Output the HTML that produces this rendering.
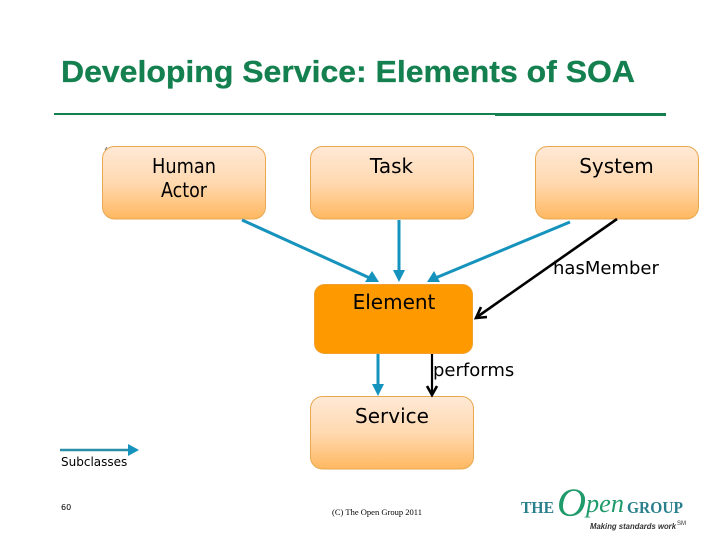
<!DOCTYPE html>
<html>
<head>
<meta charset="utf-8">
<style>
html,body{margin:0;padding:0;background:#fff;width:720px;height:540px;overflow:hidden}
svg{display:block}
.d{font-family:"DejaVu Sans",sans-serif;fill:#000}
</style>
</head>
<body>
<svg width="720" height="540" viewBox="0 0 720 540" xmlns="http://www.w3.org/2000/svg">
<defs>
<linearGradient id="g" x1="0" y1="0" x2="0" y2="1">
<stop offset="0" stop-color="#ffe9d6"/>
<stop offset="0.5" stop-color="#ffd9b0"/>
<stop offset="1" stop-color="#ffb860"/>
</linearGradient>
</defs>
<rect width="720" height="540" fill="#fff"/>

<text x="61" y="82" font-family="'Liberation Sans',sans-serif" font-weight="700" font-size="31" fill="#14804f" stroke="#14804f" stroke-width="0.3" textLength="574" lengthAdjust="spacingAndGlyphs">Developing Service: Elements of SOA</text>
<rect x="54" y="113" width="441" height="2" fill="#14804f"/>
<rect x="495" y="113" width="171" height="3" fill="#14804f"/>

<rect x="102.5" y="146.5" width="163" height="72.5" rx="12" fill="url(#g)" stroke="#e8a850"/>
<rect x="310.5" y="146.5" width="163" height="72.5" rx="12" fill="url(#g)" stroke="#e8a850"/>
<rect x="535.5" y="146.5" width="163" height="72.5" rx="12" fill="url(#g)" stroke="#e8a850"/>
<rect x="314.5" y="284.5" width="158" height="69" rx="10" fill="#ff9900" stroke="#f0a030"/>
<rect x="310.5" y="396.5" width="163" height="72.5" rx="12" fill="url(#g)" stroke="#e8a850"/>
<path d="M105 150 L107 147" stroke="#777" stroke-width="1" fill="none"/>

<g stroke="#1593bd" stroke-width="3" fill="none">
<line x1="242" y1="220" x2="372" y2="279"/>
<line x1="399" y1="220" x2="399" y2="276"/>
<line x1="570" y1="222" x2="433" y2="279"/>
<line x1="378" y1="354" x2="378" y2="390"/>
</g>
<g fill="#1593bd">
<polygon points="379,282 365,282 372,271"/>
<polygon points="399,282 393,270 405,270"/>
<polygon points="427,282 440,282 434,271"/>
<polygon points="378,396 372,384 384,384"/>
</g>
<g stroke="#000" fill="none">
<line x1="617" y1="219" x2="477" y2="317" stroke-width="2.6"/>
<polyline points="487,317 476,318 481,307" stroke-width="2.6"/>
<line x1="432" y1="354" x2="432" y2="394" stroke-width="2.2"/>
<polyline points="427,386 432,395 437,386" stroke-width="2.6"/>
</g>

<text class="d" x="152" y="173" font-size="20" textLength="64" lengthAdjust="spacingAndGlyphs">Human</text>
<text class="d" x="161" y="197" font-size="20" textLength="46" lengthAdjust="spacingAndGlyphs">Actor</text>
<text class="d" x="391.5" y="173" font-size="20" text-anchor="middle">Task</text>
<text class="d" x="616.5" y="173" font-size="20" text-anchor="middle">System</text>
<text class="d" x="394" y="309" font-size="20" text-anchor="middle">Element</text>
<text class="d" x="392" y="423" font-size="20" text-anchor="middle">Service</text>
<text class="d" x="553" y="274" font-size="18">hasMember</text>
<text class="d" x="433" y="376" font-size="18">performs</text>

<line x1="60" y1="450" x2="130" y2="450" stroke="#2a8fa8" stroke-width="2.5"/>
<polygon points="139,450 128,444 128,456" fill="#1593bd"/>
<text class="d" x="61" y="466" font-size="12">Subclasses</text>
<text class="d" x="61" y="510" font-size="8">60</text>
<text x="332" y="515" font-family="'Liberation Serif',serif" font-size="8.5" fill="#000" textLength="90" lengthAdjust="spacing">(C) The Open Group 2011</text>

<g font-family="'Liberation Serif',serif">
<text x="521" y="513" font-size="17" font-weight="700" fill="#2a7f8c" textLength="33" lengthAdjust="spacingAndGlyphs">THE</text>
<text x="557" y="516" font-size="40" font-style="italic" fill="#1f9a6a" textLength="29" lengthAdjust="spacingAndGlyphs">O</text>
<text x="586" y="512" font-size="26" font-style="italic" fill="#1f9a6a" textLength="38" lengthAdjust="spacingAndGlyphs">pen</text>
<text x="627" y="513" font-size="17" font-weight="700" fill="#2a7f8c" textLength="56" lengthAdjust="spacingAndGlyphs">GROUP</text>
</g>
<text x="590" y="529" font-family="'Liberation Sans',sans-serif" font-size="8.5" font-weight="700" font-style="italic" fill="#333" textLength="86" lengthAdjust="spacingAndGlyphs">Making standards work</text>
<text x="677" y="525" font-family="'Liberation Sans',sans-serif" font-size="6" fill="#333">SM</text>
</svg>
</body>
</html>
